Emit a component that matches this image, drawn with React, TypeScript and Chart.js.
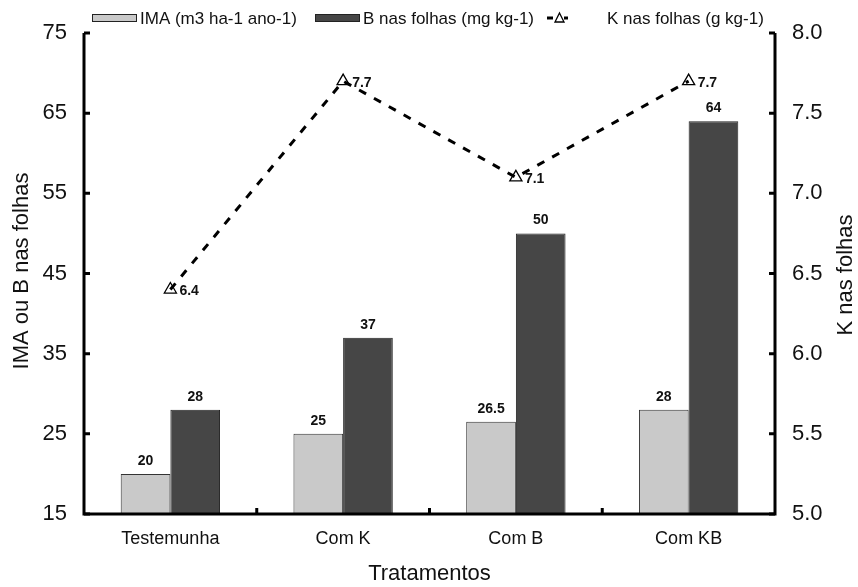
import React, { useEffect, useRef } from "react";
import { Chart, registerables } from "chart.js";

Chart.register(...registerables);

const categories = ["Testemunha", "Com K", "Com B", "Com KB"];
const imaValues = [20, 25, 26.5, 28];
const bValues = [28, 37, 50, 64];
const kValues = [6.4, 7.7, 7.1, 7.7];
const leftTicks = { min: 15, max: 75, step: 10 };
const rightTicks = { min: 5, max: 8, step: 0.5 };
const legendLabels = ["IMA (m3 ha-1 ano-1)", "B nas folhas (mg kg-1)", "K nas folhas (g kg-1)"];
const xTitle = "Tratamentos";
const yTitle = "IMA ou B nas folhas";
const y2Title = "K nas folhas";

const FONT = "'Liberation Sans', Arial, sans-serif";
const LIGHT = "#c9c9c9";
const DARK = "#464646";

const decorPlugin = {
  id: "decor",
  afterDatasetsDraw(chart: any) {
    const { ctx } = chart;
    ctx.save();
    ctx.fillStyle = "#111";
    ctx.font = `bold 14px ${FONT}`;
    ctx.textAlign = "center";
    ctx.textBaseline = "alphabetic";
    [0, 1].forEach((di) => {
      const meta = chart.getDatasetMeta(di);
      const vals = chart.data.datasets[di].data;
      meta.data.forEach((el: any, i: number) => {
        ctx.fillText(String(vals[i]), el.x, el.y - 9);
      });
    });
    const lm = chart.getDatasetMeta(2);
    const lv = chart.data.datasets[2].data;
    ctx.textAlign = "left";
    ctx.textBaseline = "middle";
    lm.data.forEach((el: any, i: number) => {
      ctx.fillText(Number(lv[i]).toFixed(1), el.x + 9, el.y + 2);
    });
    ctx.restore();
  },
  afterDraw(chart: any) {
    const { ctx, chartArea: a, scales } = chart;
    ctx.save();
    ctx.strokeStyle = "#000";
    ctx.lineWidth = 3;
    ctx.lineJoin = "miter";
    ctx.lineCap = "butt";
    ctx.beginPath();
    ctx.moveTo(a.left, a.top);
    ctx.lineTo(a.left, a.bottom);
    ctx.lineTo(a.right, a.bottom);
    ctx.lineTo(a.right, a.top);
    ctx.stroke();
    // inward ticks
    ctx.beginPath();
    scales.y.ticks.forEach((t: any) => {
      const yy = scales.y.getPixelForValue(t.value);
      ctx.moveTo(a.left, yy);
      ctx.lineTo(a.left + 6, yy);
    });
    scales.y2.ticks.forEach((t: any) => {
      const yy = scales.y2.getPixelForValue(t.value);
      ctx.moveTo(a.right, yy);
      ctx.lineTo(a.right - 6, yy);
    });
    const n = categories.length;
    const cw = (a.right - a.left) / n;
    for (let i = 1; i < n; i++) {
      const xx = a.left + cw * i;
      ctx.moveTo(xx, a.bottom);
      ctx.lineTo(xx, a.bottom - 6);
    }
    ctx.stroke();

    // titles
    ctx.fillStyle = "#111";
    ctx.font = `22px ${FONT}`;
    ctx.textAlign = "center";
    ctx.textBaseline = "middle";
    ctx.fillText(xTitle, (a.left + a.right) / 2, 574);
    ctx.save();
    ctx.translate(22, 271);
    ctx.rotate(-Math.PI / 2);
    ctx.fillText(yTitle, 0, 0);
    ctx.restore();
    ctx.save();
    ctx.translate(846, 275);
    ctx.rotate(-Math.PI / 2);
    ctx.fillText(y2Title, 0, 0);
    ctx.restore();

    // legend
    const ly = 18;
    ctx.font = `17px ${FONT}`;
    ctx.textAlign = "left";
    ctx.lineWidth = 1;
    ctx.fillStyle = LIGHT;
    ctx.fillRect(92, ly - 4, 45, 8);
    ctx.strokeStyle = "#222";
    ctx.strokeRect(92.5, ly - 3.5, 44, 7);
    ctx.fillStyle = "#111";
    ctx.fillText(legendLabels[0], 140, ly + 1);
    ctx.fillStyle = DARK;
    ctx.fillRect(315, ly - 4, 45, 8);
    ctx.strokeRect(315.5, ly - 3.5, 44, 7);
    ctx.fillStyle = "#111";
    ctx.fillText(legendLabels[1], 363, ly + 1);
    ctx.lineWidth = 3;
    ctx.strokeStyle = "#000";
    ctx.beginPath();
    ctx.moveTo(547, ly);
    ctx.lineTo(553, ly);
    ctx.moveTo(564, ly);
    ctx.lineTo(568, ly);
    ctx.stroke();
    ctx.lineWidth = 1.3;
    ctx.beginPath();
    ctx.moveTo(559.5, ly - 5);
    ctx.lineTo(564, ly + 4);
    ctx.lineTo(555, ly + 4);
    ctx.closePath();
    ctx.stroke();
    ctx.fillText(legendLabels[2], 607, ly + 1);
    ctx.restore();
  },
};

export default function App() {
  const ref = useRef<HTMLCanvasElement>(null);
  useEffect(() => {
    if (!ref.current) return;
    const chart = new Chart(ref.current, {
      type: "bar",
      data: {
        labels: categories,
        datasets: [
          {
            label: legendLabels[0],
            data: imaValues,
            backgroundColor: LIGHT,
            borderColor: "#333",
            borderWidth: 1,
            yAxisID: "y",
            order: 1,
          },
          {
            label: legendLabels[1],
            data: bValues,
            backgroundColor: DARK,
            borderColor: "#222",
            borderWidth: 1,
            yAxisID: "y",
            order: 1,
          },
          {
            type: "line",
            label: legendLabels[2],
            data: kValues,
            yAxisID: "y2",
            borderColor: "#000",
            borderWidth: 3,
            borderDash: [8, 9],
            pointStyle: "triangle",
            pointRadius: 7,
            pointBorderColor: "#000",
            pointBorderWidth: 1.3,
            pointBackgroundColor: "rgba(255,255,255,0)",
            fill: false,
            tension: 0,
            order: 0,
          } as any,
        ],
      },
      options: {
        animation: false,
        responsive: false,
        layout: { padding: { top: 33, left: 0, right: 0, bottom: 0 } },
        plugins: { legend: { display: false }, tooltip: { enabled: false } },
        datasets: { bar: { categoryPercentage: 0.575, barPercentage: 1.0 } },
        scales: {
          x: {
            grid: { display: false, drawTicks: false },
            border: { display: false },
            ticks: { font: { family: FONT, size: 18 }, color: "#111", padding: 14 },
            afterFit: (s: any) => {
              s.height = 73;
            },
          },
          y: {
            position: "left",
            min: leftTicks.min,
            max: leftTicks.max,
            grid: { display: false, drawTicks: false },
            border: { display: false },
            ticks: {
              stepSize: leftTicks.step,
              font: { family: FONT, size: 22 },
              color: "#111",
              padding: 17,
            },
            afterFit: (s: any) => {
              s.width = 84;
            },
          },
          y2: {
            position: "right",
            min: rightTicks.min,
            max: rightTicks.max,
            grid: { display: false, drawTicks: false },
            border: { display: false },
            ticks: {
              stepSize: rightTicks.step,
              font: { family: FONT, size: 22 },
              color: "#111",
              padding: 17,
              callback: (v: any) => Number(v).toFixed(1),
            },
            afterFit: (s: any) => {
              s.width = 83;
            },
          },
        },
      } as any,
      plugins: [decorPlugin],
    });
    return () => chart.destroy();
  }, []);
  return (
    <div style={{ position: "fixed", left: 0, top: 0, width: 858, height: 587, background: "#fff" }}>
      <canvas ref={ref} width={858} height={587} />
    </div>
  );
}
